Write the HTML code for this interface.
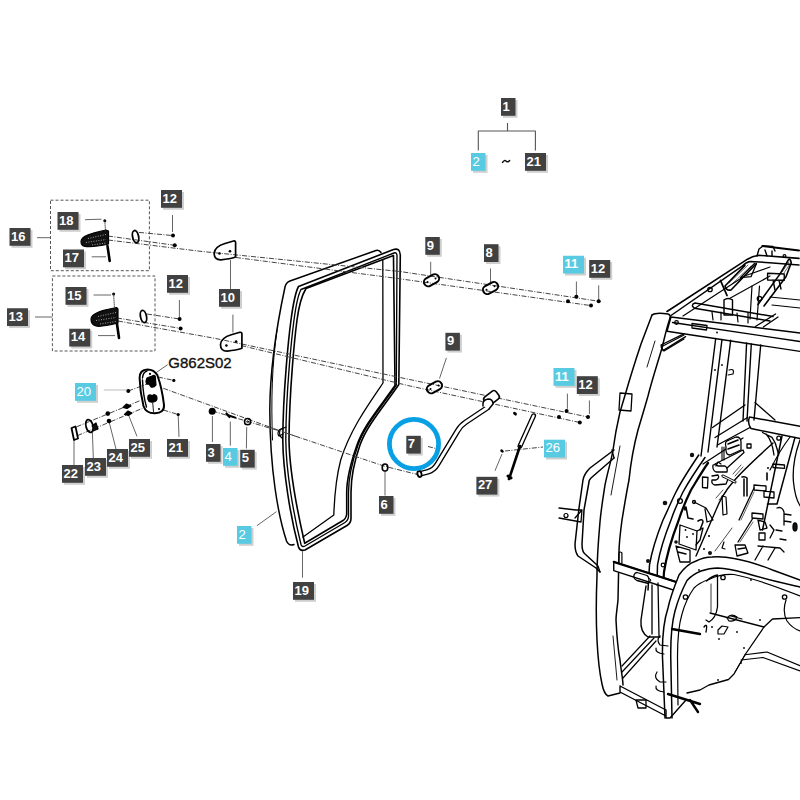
<!DOCTYPE html>
<html><head><meta charset="utf-8"><style>
html,body{margin:0;padding:0;background:#fff;width:800px;height:800px;overflow:hidden}
svg{position:absolute;left:0;top:0;display:block}
.lb text{font-family:"Liberation Sans",sans-serif;font-weight:bold;font-size:13px;fill:#fff}
.lb text.r{font-weight:normal;font-size:13.2px}
</style></head><body>
<svg width="800" height="800" viewBox="0 0 800 800">
<defs><filter id="sh" x="-20%" y="-20%" width="140%" height="140%"><feGaussianBlur stdDeviation="0.6"/></filter></defs>
<g fill="none" stroke="#000" stroke-width="1.3" stroke-linecap="round" stroke-linejoin="round">
<!-- back panel -->
<path d="M381,252.5 Q379,249.5 376,250.5 L290,281 Q286,282.5 285,287 C279,315 270,360 269.8,410 C270,470 278,515 286.5,541 Q289,546.5 294,544.5" stroke-width="1.5"/>
<path d="M277,330 C272,365 271,400 272.5,440" stroke-width="1"/>
<!-- glass inner edge -->
<path d="M382.8,260 L383,383 C368,405 350,430 340.7,460 C336,478 334.5,495 333.8,515 L303,537" stroke-width="1.3"/>
<!-- seal outer -->
<path d="M298.5,286.5 L393.5,249.5 Q400,247.5 400.3,255 L398.8,384.5 C385,405 367,425 360,445 C353,465 351,480 351,492.5 L351,518.5 Q351,523 347,525.5 L305,550 Q300,551.5 298.5,547 C290,515 283,470 282.8,440 C283,390 289,335 291,320 C293,305 295,293 298.5,286.5" stroke-width="1.6"/>
<!-- seal mid -->
<path d="M301,289.5 L394,253 Q397,252 397,256 L396.3,385 C382,406 365,425 358,445 C351,465 348.5,480 348.5,492.5 L348.5,516 Q348.5,520 345,522.5 L305,546 Q302,547.5 301,544.5 C293,512 286,470 285.8,440 C286,390 292,335 294,320 C296,305 298,295 301,289.5" stroke-width="1.35"/>
<!-- seal inner -->
<path d="M306,288.5 L393.5,255.5 L393.5,258 L395,385.5 C380,407 364,425 357,445 C350,465 346.7,480 346.7,492.5 L346.7,514 Q346,519 343,520.5 L304.7,543.3 C297,510 289.5,470 289,440 C289.3,390 295,335 297,320 C299,305 302,295 306,288.5" stroke-width="1.6"/>
<!-- clip on left -->
<path d="M286,427 L280.5,429.5 Q279,431 280,436 L282,438" stroke-width="1.2"/>
<!-- A pillar -->
<path d="M652,315 C647,328 644,336 641,344 C635,362 630,378 626,392 L620,412 C617,425 615,435 613,450 C611,462 608,470 605,485 C603,498 601,510 600,522 C598,545 597,560 597,576 C596,600 596,620 597,640 C598,660 600,675 602,684 Q604,694 608,696 L620,693" stroke-width="1.5"/>
<path d="M670,318 C666,330 664,340 662,348 C657,365 652,380 648,396 C644,410 641,420 638,430 C634,445 631,460 629,480 C626,495 624,508 622,520 C620,535 619,545 619,552 L618,600 C617,610 616,615 616,620 C617,640 618,650 620,660 C621,670 623,680 623,685" stroke-width="1.5"/>
<path d="M652,315 Q656,312 668,314 Q671,315 670,318" stroke-width="1.5"/>
<path d="M655,341 L647,367 M620,446 L611,495 M613,636 L617,680" stroke-width="0.9"/>
<path d="M661,347 L684,335 M664,351 L684,339 M661,347 L664,351" stroke-width="1.2"/>
<!-- hinge plate -->
<path d="M620,393 L632,394 L631,411 L619,410 Z" stroke-width="1.3"/>
<!-- roof rail -->
<path d="M667,311.5 L747.5,259.2 Q752,256.5 758.9,255.3 L799,258.4" stroke-width="1.6"/>
<path d="M671,315.5 L742.2,266.2 Q746,262 750.1,261.4 L769.4,262.7 L799,265" stroke-width="1.5"/>
<path d="M762.4,246.1 L799,250.5" stroke-width="2"/>
<path d="M757,256 L759,249 L763,246 L773,246.5 L775,251 M765,250 L767,256 M772,251 L772,256" stroke-width="1.4"/>
<circle cx="784.5" cy="256" r="1.4" stroke-width="1.2"/>
<path d="M683,316 L744.5,276 L770,267" stroke-width="1.2"/>
<path d="M729.5,298.5 L770,276" stroke-width="1.2"/>
<path d="M770,297 L800,300 M772,305 L800,308" stroke-width="1.2"/>
<!-- front header beam -->
<path d="M671,317 L800,333 M672.5,322.5 L800,341.5 M667,331.25 L800,351.4 M671,317 L667,331.25" stroke-width="1.4"/>
<path d="M692,323.5 L707,325.5 L706.5,330 L692,328 Z" stroke-width="1.3"/>
<circle cx="676.5" cy="322.5" r="1.8" stroke-width="1.3"/>
<circle cx="717" cy="332.5" r="0.9" fill="#000" stroke="none"/>
<path d="M661,345 L683.8,333.8 M663,350.6 L685.6,336.6 M661,345 L663,350.6" stroke-width="1.3"/>
<!-- round tube -->
<path d="M773,316.5 L695,303 Q692,304 692.5,306 Q693.5,308.5 696,308.5 L770,321" stroke-width="1.5"/>
<path d="M755.4,326.5 L775.6,314 M763.3,327 L778,317" stroke-width="1.3"/>
<!-- vertical posts upper -->
<path d="M715.7,338.5 L701,456 M722,339.4 L708,452 M730.7,340.3 L717,447 M746.6,343 L743,421 M751.3,344 L747,421 M760.7,345 L754,420" stroke-width="1.4"/>
<path d="M713,320 L712,312 M721,320 L721,312 M738,322 L737,313 M748,323 L748,313 M750,319 L752,286 M757,320 L759.5,286" stroke-width="1.2"/>
<circle cx="715" cy="370" r="0.9" fill="#000" stroke="none"/><circle cx="722" cy="365" r="0.9" fill="#000" stroke="none"/>
<path d="M729,370 Q735,368 733,374 L728,375" stroke-width="1.2"/>
<!-- clamp on tube -->
<path d="M724,300 L724,315 L732.5,315 L732.5,300 M724,300 Q728,297 732.5,300" stroke-width="1.4"/>
<path d="M720.5,280.5 L727,295.5" stroke-width="1.8"/>
<!-- roof diagonals -->
<path d="M725,286 L744.9,265.4 M731,290 L756.25,263.6 M725,286 Q726,291 731,290" stroke-width="1.6"/>
<path d="M729,283 L748,265 M732,284 L751,266" stroke-width="0.6"/>
<path d="M740.5,277.6 L754.5,263.4 M751,276.7 L756.5,263.6 M740.5,277.6 L751,276.7" stroke-width="1.3"/>
<path d="M758,304.5 L779.9,274.1 L787.75,261 Q790,256.5 791.25,262.75 L786,276.75 L764,306" stroke-width="1.6"/>
<path d="M782,272 L789,262 M784,273 L790,264" stroke-width="0.6"/>
<path d="M767.6,273.25 L784.25,274 L784.25,280.25 L767.6,280 Z M773,280 L775,290 M779,280 L781,289" stroke-width="1.4"/>
<circle cx="759.5" cy="298.5" r="2.2" stroke-width="1.3"/>
<circle cx="710" cy="289.5" r="2.2" stroke-width="1.3"/>
<!-- grab handle -->
<path d="M614,450 L590,468 Q584,474 583,480 L579,508 L575,544 Q575,552 578,556 L596,568 L600,572" stroke-width="1.5"/>
<path d="M614,458 L591,478 Q589,480 589,482 L584,510 L582,544 Q582,552 585,554 L597,565" stroke-width="1.5"/>
<path d="M612,450 L614,458 M598,566 L600,572" stroke-width="1.3"/>
<path d="M559,508 L576,510 L582,510 L581,522 L559,518 M575,518 L582,510" stroke-width="1.3"/>
<circle cx="566" cy="515.5" r="2" stroke-width="1.2"/>
<!-- big arch (rear door frame) -->
<path d="M698.75,455 C690,468 682,480 676,492 C671,502 667,512 663,520 C657,535 652,550 649.5,565 L648,590" stroke-width="1.5"/>
<path d="M705,457.5 C697,469 689,481 683,492 C678,502 674,511 671,520 C665,535 660,550 657.5,565 L657,585" stroke-width="1.5"/>
<path d="M708,463 C701,473 696,482 691,490 C686,500 682,510 678.75,520 C673,535 667,552 664,572 L663.5,580" stroke-width="2.2"/>
<path d="M773,443 C760,455 745,468 733,482 C726,490 720,500 716,510 C710,524 703,540 696,556" stroke-width="1.4"/>
<path d="M790,437 C780,450 775,460 770,470" stroke-width="1.2"/>
<!-- right beam + posts -->
<path d="M749.5,417 L800,426.3 M751,428.5 L800,438.5 M749.5,417 Q747,423 751,428.5" stroke-width="1.5"/>
<path d="M782,436 L762.5,530 M795,437.4 L777,504 M767.4,504 L777,504" stroke-width="1.5"/>
<path d="M800,440 Q792,462 793.4,481.3 Q795,498 800,505.7" stroke-width="1.3"/>
<path d="M755,402.5 L775,420" stroke-width="1.2"/>
<path d="M712.5,427.5 L745,405 M715,437.5 L747.5,417.5 M717.5,445 L750,427.5" stroke-width="1.4"/>
<path d="M703,464 L743,438" stroke-width="1.3"/>
<!-- rear wall details -->
<g stroke-width="1.3">
<path d="M726,447 Q724,441 729,440 L736,437 Q741,437 741,442 L741,450 L730,455 Q726,455 726,450 Z" fill="#fff"/>
<path d="M728,444 L738,440 M728,449 L739,445" stroke-width="1.6"/>
<path d="M724,447 L724,460 M722,447 L722,460" stroke-width="1.1"/>
<path d="M715,464 L743,450 L744,452.5 L727,468" />
<path d="M713,465 Q712,470 716,472 L727,472 Q728,468 725,466 L718,466 Q716,464 713,465 Z M716,466 L718,462 L721,464"/>
<path d="M712,476 L718,475 Q720,478 716,480 L712,480 Q711,484 715,485 L726,484 L728,479"/>
<path d="M702.5,477 L708,477.5 L707.5,488 L702.5,487.5 Z"/>
<path d="M723,476 L735,482" stroke-width="3"/>
<path d="M723,476 L735,482" stroke="#fff" stroke-width="1.2"/>
<path d="M742,477 Q745,476 747,478 L747,496 M744,479 L744,496" stroke-width="1.5"/>
<path d="M733,474 L741,465 M735,476 L743,467 M716,498 L723,490 M719,500 L726,492" stroke-width="0.7"/>
<path d="M747,444 L751,444 L751,448 L747,448 Z"/>
<path d="M762.5,432.5 L772,437.4 Q776,443 777,448.8 L778.8,455 M766,434 Q772,440 774,455"/>
<path d="M773,464 L784.5,465 L784.5,468.3 L773,467.5 Z"/>
<circle cx="778.8" cy="438.2" r="2" stroke-width="1.3"/>
<circle cx="768" cy="468" r="1" fill="#000" stroke="none"/>
<path d="M767,473 L767,480" stroke-width="1.6"/>
<!-- slanted plates + brackets -->
<path d="M739,520 L754,488 M738,542 L753,518" stroke-width="1.3"/>
<path d="M741,520 L754,492 M740,542 L753,522" stroke-width="0.6"/>
<path d="M754,485 L766,486 L766,491 L754,490 Z M764,491 L774,492 L774,498 L764,497 Z M752,513 L763,514 L763,519 L752,518 Z"/>
<path d="M758,520 L765,522 L767,528 L760,530 Z M759,533 L765,533 L765,540 L759,540 Z M770,525 L774,530 L770,538" />
<path d="M777,508 Q782,506 784,512 L784,525 M784,514 L791,515 M784,521 L791,522 M776,530 L782,531 M780,539 L786,540"/>
<ellipse cx="795" cy="527" rx="2" ry="4" fill="#111"/>
<path d="M735,545 L745,545 L748,553 L737,556 Z M738,549 L745,548"/>
<path d="M758,546 L780,548 L784,552 M763,546 L755,560 M775,548 L768,560"/>
<!-- left latch area -->
<path d="M680,525 L697,531 L696,550 L679,544 Z"/>
<circle cx="685.5" cy="530" r="0.9" fill="#000" stroke="none"/><circle cx="693" cy="534" r="0.9" fill="#000" stroke="none"/><circle cx="687" cy="537" r="0.9" fill="#000" stroke="none"/>
<path d="M685,510 Q684,507 686,507 L688,518 L693,519 M698,521 Q703,518 703,522 L700,530" stroke-width="1.5"/>
<path d="M694,502 L706,508 L713,520 L707,522 L705,509" />
<circle cx="694" cy="502" r="1.5"/>
<path d="M697,531 L703,528 L700,540 L696,545" />
<path d="M676,546 L690,550 L690,562 L680,562 Z M678,552 L686,554"/>
<path d="M722,496 L726,497 L727,514 L723,515 Z" stroke-width="1.2"/>
<path d="M724,542 L722,548 L725,549" stroke-width="1.2"/>
<circle cx="709" cy="536" r="1" fill="#000" stroke="none"/><circle cx="704" cy="549" r="1" fill="#000" stroke="none"/>
<path d="M715,551 L732,528" stroke-width="0.7"/>
</g>
<g fill="#111" stroke="none">
<circle cx="665" cy="503" r="2.3"/><circle cx="692" cy="455" r="2.2"/><circle cx="648" cy="561" r="2"/><circle cx="710" cy="553" r="2"/><circle cx="676" cy="542" r="1.8"/>
</g>
<circle cx="680" cy="501" r="2.4" stroke-width="1.3"/>
<circle cx="663" cy="565" r="1.8" stroke-width="1.2"/>
<!-- step bar -->
<path d="M613.75,561.9 L681,583.5 L678,591.5 L613.75,570.6 Z" fill="#fff" stroke-width="1.4"/>
<path d="M613.75,561.9 L681,583.5" stroke-width="2.2"/>
<path d="M637,572.5 L647,575.5 Q650,578 648.5,583.5 L637,580.5 Q633,578.5 634,575 Q635,572.5 637,572.5 Z" stroke-width="1.3"/>
<path d="M648.5,578 L651,580 L649,583" stroke-width="1"/>
<path d="M618.75,562 L619,553 Q620,551 621.9,553 L621.9,563" stroke-width="1.2"/>
<!-- lower rear panel -->
<path d="M646,586 L641,620 Q640,632 648,637 L660,637" stroke-width="1.4"/>
<path d="M652,585 L652,634 M658,583 L659,636" stroke-width="1.3"/>
<!-- wheel arch -->
<path d="M665,718 L662.5,657.5 C662,635 664,620 668,608 C670,598 673,590 679,575 C684,568 690,563 695.5,561.25 C701,558.5 706,557 712,557 C720,556.5 727,557 734,558.5 C748,561 760,565 772.5,570 C785,574.5 793,577.5 800,580 L800,596 C775,586 752,578 734,574.5 C726,577 718,577 710,579 C704,581 699,583 694,588 C689,595 685,603 682,614 C679,624 677.5,636 677.5,657 L678,718 Z" fill="#fff" stroke="none"/>
<path d="M665,718 L662.5,657.5 C662,635 664,620 668,608 C670,598 673,590 679,575 C684,568 690,563 695.5,561.25 C701,558.5 706,557 712,557 C720,556.5 727,557 734,558.5 C748,561 760,565 772.5,570 C785,574.5 793,577.5 800,580" stroke-width="1.5"/>
<path d="M672,718 L670.75,657.5 C670.5,635 672,622 675,611 C678,600 682,590 687,580.5 C692,575 696,573 701,571 C707,569 712,568 717.5,568 C728,568.5 736,570.5 745,573 C765,579 785,583.5 800,587" stroke-width="1.5"/>
<path d="M678,705 L677.5,657 C677.5,636 679,624 682,614 C685,603 689,595 694,588 C699,583 704,581 710,579 C718,575 726,574 734,574.5 C752,578 775,586 800,596" stroke-width="1.2"/>
<circle cx="685.5" cy="597" r="2.2" stroke-width="1.3"/>
<circle cx="723" cy="577.5" r="2.2" stroke-width="1.3"/>
<circle cx="784.6" cy="597" r="2.2" stroke-width="1.3"/>
<circle cx="699" cy="570" r="0.9" fill="#000" stroke="none"/><circle cx="751" cy="580" r="0.9" fill="#000" stroke="none"/>
<path d="M706.5,581 Q712,576 717.5,575 L717.5,607 Q716,618 709,622 L706,620" stroke-width="1.3"/>
<path d="M711,584 L711,612" stroke-width="0.8"/>
<path d="M786,600 Q782,612 787,621 Q792,628 800,631" stroke-width="1.2"/>
<!-- floor -->
<path d="M710,613 L764,627 L772.5,619 L800,617.6" stroke-width="1.3"/>
<path d="M764,627 L745,654.75 L734,674 L728.5,679.5 L709,685 L700,690 L687,693" stroke-width="1.3"/>
<path d="M745,654.75 L767,652 L800,665.75 M741,660 L763,657.5 L800,671" stroke-width="1.2"/>
<path d="M745,655 L735,672" stroke-width="1.0"/>
<path d="M727,618 Q731,613 737,617 Q735,622 729,621 Z M731,616 L742,619" stroke-width="1.2"/>
<path d="M718,630 L722,626 L728,627 L724,634 L718,634 Z" stroke-width="1.2"/>
<g fill="#000" stroke="none"><circle cx="712" cy="627" r="0.9"/><circle cx="737" cy="632" r="0.9"/><circle cx="719" cy="639" r="0.9"/><circle cx="744" cy="648" r="0.9"/><circle cx="718" cy="680" r="0.9"/><circle cx="741" cy="663" r="0.9"/><circle cx="760" cy="620" r="0.9"/></g>
<path d="M704,627 Q708,622 706,632" stroke-width="1.3"/>
<path d="M660,636 Q656,640 660,645 L668,646 M657,672 Q653,678 660,682 L666,682" stroke-width="1.2"/>
<!-- floor frame -->
<path d="M620,686 L666,710 M620,692 L666,716 M620,686 L620,692 M666,710 L666,718 L670,718 L686,700" stroke-width="1.4"/>
<path d="M622,672 L654,638 M623,678 L656,641 M622,666 L650,636" stroke-width="1.2"/>
<path d="M636,700 L646,700 L646,708 L638,708 Z" stroke-width="1.3"/>
<path d="M672,629 L700,634 M668,694 L700,704 M690,700 L698,712" stroke-width="2.4"/>
<path d="M656,648 Q655,653 664,654 M656,686 Q655,691 664,692" stroke-width="1.2"/>
<!-- tree lines top -->
<path d="M507.5,123 L507.5,131 M478.3,150.5 L478.3,131 L535.4,131 L535.4,150.5" stroke="#555" stroke-width="1.1" stroke-linecap="butt"/>
<!-- dashed boxes -->
<rect x="50.5" y="200.2" width="98.9" height="70.5" stroke="#555" stroke-width="1" stroke-dasharray="3 2" stroke-linecap="butt"/>
<rect x="52.4" y="276" width="102.6" height="75" stroke="#555" stroke-width="1" stroke-dasharray="3 2" stroke-linecap="butt"/>
<!-- leader lines -->
<g stroke="#666" stroke-width="1" stroke-linecap="butt">
<path d="M37,237.7 L50.5,237.7 M85,219.7 L101.5,219.2 M91.7,256.8 L106,256.8 M172.5,215 L172.5,232"/>
<path d="M35,317 L52.4,317 M93.6,295 L111,295 M98,335.6 L115,335.6 M179.4,300 L179.4,317"/>
<path d="M230.5,260 L230.5,289 M232.9,314.6 L232.9,332.5"/>
<path d="M430.7,261.8 L430.7,275 M490.5,268.4 L490.5,282.8 M576.4,281.5 L576.4,296 M598.7,285.4 L598.7,300"/>
<path d="M446.4,357.9 L439.5,378.5 M567.4,393.6 L567.4,408.8 M589.4,400.5 L589.4,414"/>
<path d="M156.3,372.5 L167.7,364.6 M178.2,415 L179,437"/><path d="M103.8,390 L126.5,390" stroke="#bbb"/>
<path d="M74,440 L74,465 M92.4,432 L93.3,458 M109,421.5 L116,449 M128.3,414.5 L137,436.4"/>
<path d="M212.4,416 L212.4,442 M230.3,421.6 L230.3,445.7 M246.7,427 L246.4,448.5"/>
<path d="M385,470.75 L385,495.5 M495,470.75 L502,454"/>
<path d="M256.9,525.7 L276.4,511.7 M302.5,577.7 L302.5,551"/>
</g>
<!-- dash-dot lines -->
<g stroke="#444" stroke-width="1" stroke-dasharray="5 1.5 1 1.5" stroke-linecap="butt">
<path d="M139,232.4 L173,235.6 M108,236 L174.75,245.3"/>
<path d="M108,240 L200,251.25 L400,271.5 L598.7,301.2"/>
<path d="M236,257.5 L400,278.8 L591,305.6"/>
<path d="M147,314 L179.6,319 M117,318 L180.6,328.4"/>
<path d="M118,321 L215,338.35 L410,379.6 L588,417"/>
<path d="M241,345.5 L410,386 L579.8,422.5"/>
<path d="M128.3,391 L147,384 M158,377 L173.8,380.4 M163.3,388.3 L281.25,431.25 L300,437.8"/>
<path d="M163.3,410 L178.2,414.5 M76.6,426.8 L140.5,400.5 M77.5,435.6 L142.3,408.4"/>
<path d="M212.5,411 L279,430.8 M286,433 L384.5,466.25 L419.5,475"/>
<path d="M428,446.5 L436,448.5 M505,451 L543,447"/>
</g>
<!-- dots -->
<g fill="#000" stroke="none">
<circle cx="173" cy="235.6" r="2"/><circle cx="174.75" cy="245.3" r="2"/>
<circle cx="179.6" cy="319" r="2"/><circle cx="180.6" cy="328.4" r="2"/>
<circle cx="576.4" cy="296.7" r="2"/><circle cx="598.7" cy="301.2" r="2"/>
<circle cx="568" cy="301.2" r="2"/><circle cx="591" cy="305.6" r="2"/>
<circle cx="566.6" cy="411" r="2"/><circle cx="588" cy="417" r="2"/>
<circle cx="559" cy="417" r="2"/><circle cx="579.8" cy="422.5" r="2"/>
<circle cx="104.8" cy="220.8" r="1.5"/><circle cx="113.6" cy="294" r="1.5"/>
<circle cx="128.3" cy="391" r="2"/><circle cx="173.8" cy="380.4" r="1.6"/><circle cx="178.2" cy="414.5" r="1.6"/>
<circle cx="107.8" cy="413.6" r="2.3"/><circle cx="109" cy="421" r="2.3"/>
<circle cx="212.2" cy="411.2" r="3.5"/>
<ellipse cx="515" cy="413.7" rx="2.2" ry="1.5" transform="rotate(40 515 413.7)"/>
<ellipse cx="502" cy="451" rx="2" ry="1.4" transform="rotate(40 502 451)"/>
</g>
<!-- handles (grips) -->
<path d="M81,241.5 C81,236 92,233 106,230 L108.5,231 L108.5,244 C100,246 90,247 85,246.5 C82,246 81,244 81,241.5 Z" fill="#111" stroke="#000" stroke-width="1.2"/>
<path d="M91,319 C91,313 103,310 116.5,307.5 L118,309 L118,323 C110,325 100,327 96,326 C92,325 91,322 91,319 Z" fill="#111" stroke="#000" stroke-width="1.2"/>
<g stroke="#fff" stroke-width="0.6" stroke-dasharray="1 1.5" stroke-linecap="butt">
<path d="M88,238.5 L106,234.5 M86,242.5 L106,239.5 M92,245 L106,243"/>
<path d="M98,316.5 L116,312.5 M96,320.5 L116,317.5 M100,324 L116,321.5"/>
</g>
<path d="M107.5,246 L109.7,261 M117,324 L119,338" stroke-width="2.6"/>
<path d="M104.8,221 L105.5,230 M113.6,294 L114.5,308" stroke="#333" stroke-width="0.8" stroke-dasharray="1 1"/>
<!-- rings -->
<ellipse cx="135.6" cy="236.6" rx="3" ry="6.2" transform="rotate(-12 135.6 236.6)" stroke-width="1.8"/>
<ellipse cx="143.5" cy="316.5" rx="3" ry="6.2" transform="rotate(-12 143.5 316.5)" stroke-width="1.8"/>
<!-- hinge plates 10 -->
<path d="M233.5,241 Q236,240.5 235.6,244 L235.6,257 Q230,259 221,259.8 Q214,260 214.2,253 Q215,246.5 225,243.5 Z" stroke-width="1.7"/>
<path d="M239.8,332.3 Q242.3,331.8 241.9,335.3 L241.9,348.3 Q236.3,350.3 227.3,351.1 Q220.3,351.3 220.5,344.3 Q221.3,337.8 231.3,334.8 Z" stroke-width="1.7"/>
<g fill="#000" stroke="none"><circle cx="219.5" cy="253.5" r="1.3"/><circle cx="230" cy="251.2" r="1.3"/><circle cx="226.4" cy="345.5" r="1.3"/><circle cx="236.1" cy="341.6" r="1.3"/></g>
<!-- plates 9, 8 -->
<g stroke-width="2">
<rect x="423.5" y="276" width="16" height="8.5" rx="4.2" transform="rotate(-28 431.5 280.2)"/>
<rect x="482.5" y="283.8" width="16" height="8.5" rx="4.2" transform="rotate(-28 490.5 288)"/>
<rect x="426.5" y="383" width="16" height="8.5" rx="4.2" transform="rotate(-28 434.5 387.3)"/>
</g>
<g fill="#000" stroke="none"><circle cx="427.5" cy="282" r="1"/><circle cx="435.5" cy="278.4" r="1"/><circle cx="486.5" cy="289.8" r="1"/><circle cx="494.5" cy="286.2" r="1"/><circle cx="430.5" cy="389.1" r="1"/><circle cx="438.5" cy="385.5" r="1"/></g>
<!-- lock plate -->
<path d="M139.6,378 Q139.5,369.5 147.5,369.4 Q154,369.5 157.3,375 Q162,388 164,405 Q164.5,413 155,413.3 Q146,413.5 143.5,406 Q140,392 139.6,378 Z" stroke-width="2"/>
<path d="M142.5,378 Q143,372 147,371 M142.5,380 Q143,395 146.5,407" stroke-width="1.4"/>
<path d="M147,378 L152,376 Q156,374 155.5,379 L156,385 Q154,388 151,387 L149,384 Q146,385 146,381 Z" fill="#000" stroke-width="1.2"/>
<path d="M148,396 Q150,394 152,396 Q154,393 156.5,396 Q158,400 155,401.5 Q152,403 149,401.5 Q147,399 148,396 Z" fill="#000" stroke-width="1.2"/>
<path d="M152.75,403 L153.5,411.5" stroke-width="0.9"/>
<circle cx="150" cy="373.9" r="1.1" fill="#000" stroke="none"/><circle cx="159" cy="409" r="1.1" fill="#000" stroke="none"/>
<!-- small parts 22-25 -->
<path d="M71.5,428 L75.5,426.5 L78,438.5 L74,440 Z" stroke-width="1.8"/>
<ellipse cx="89.5" cy="426" rx="3.5" ry="6.5" transform="rotate(-15 89.5 426)" stroke-width="1.8"/>
<path d="M92,426 L96,423 L98,429 L93,431" fill="#111" stroke-width="1.2"/>
<path d="M123,407.5 L126.5,404 L131,406 L127,408.5 Z M124.5,414.5 L128,411 L132,413 L128.5,415.5 Z" fill="#000" stroke-width="1.2"/>
<!-- 4 screw, 5 washer -->
<path d="M227.4,415 L235.3,417.6" stroke-width="2"/>
<path d="M226.5,413.5 L229.5,417" stroke-width="2.2"/>
<circle cx="247.6" cy="421.7" r="3.1" stroke-width="1.5"/>
<circle cx="247.6" cy="421.7" r="1" stroke-width="0.7"/>
<!-- clip on door -->
<path d="M283,428 L279,430 Q277,434 279,436 L283,434" stroke-width="1.2"/>
<!-- washer 6 -->
<ellipse cx="385" cy="467.5" rx="2.8" ry="3.5" stroke-width="1.6"/>
<!-- rod 7 -->
<path d="M419.5,474 L428,471.8 Q434,470 437.5,464 L457.5,431 Q460.5,425.5 466,422 L487,408" stroke-width="5.6" stroke-linecap="round"/>
<path d="M419.5,474 L428,471.8 Q434,470 437.5,464 L457.5,431 Q460.5,425.5 466,422 L487,408" stroke="#fff" stroke-width="3" stroke-linecap="round"/>
<ellipse cx="419.5" cy="474" rx="2" ry="3" transform="rotate(-15 419.5 474)" stroke-width="1.8" fill="#fff"/>
<rect x="484" y="393" width="15" height="10" rx="3" transform="rotate(-38 491.5 398)" stroke-width="1.6" fill="#fff"/>
<path d="M483,406 Q482,400 488,399 Q493,399 493,404 L489,409" stroke-width="1.5" fill="#fff"/>
<!-- gas strut 26 -->
<path d="M520,446 L533.6,415.75" stroke-width="5" stroke-linecap="round"/>
<path d="M520,446 L533.6,415.75" stroke="#fff" stroke-width="2.4" stroke-linecap="round"/>
<path d="M509,479 L520,446" stroke-width="2.6"/>
<path d="M508,476 L511,478" stroke-width="3"/>
<!-- door clip extra -->

</g>
<g class="lb">
<rect x="503.00" y="100.00" width="14.5" height="17.8" fill="#cfcfcf" filter="url(#sh)"/><rect x="501.00" y="98.00" width="14.5" height="17.8" fill="#414141"/><text x="502.50" y="110.50">1</text><rect x="473.00" y="155.00" width="14.5" height="17.8" fill="#cfcfcf" filter="url(#sh)"/><rect x="471.00" y="153.00" width="14.5" height="17.8" fill="#58cbe2"/><text x="472.50" y="165.50" class="r">2</text><rect x="527.00" y="155.00" width="21" height="17.8" fill="#cfcfcf" filter="url(#sh)"/><rect x="525.00" y="153.00" width="21" height="17.8" fill="#414141"/><text x="526.50" y="165.50">21</text><rect x="11.50" y="230.00" width="21" height="17.8" fill="#cfcfcf" filter="url(#sh)"/><rect x="9.50" y="228.00" width="21" height="17.8" fill="#414141"/><text x="11.00" y="240.50">16</text><rect x="59.50" y="214.00" width="21" height="17.8" fill="#cfcfcf" filter="url(#sh)"/><rect x="57.50" y="212.00" width="21" height="17.8" fill="#414141"/><text x="59.00" y="224.50">18</text><rect x="163.00" y="192.00" width="21" height="17.8" fill="#cfcfcf" filter="url(#sh)"/><rect x="161.00" y="190.00" width="21" height="17.8" fill="#414141"/><text x="162.50" y="202.50">12</text><rect x="65.00" y="251.50" width="21" height="17.8" fill="#cfcfcf" filter="url(#sh)"/><rect x="63.00" y="249.50" width="21" height="17.8" fill="#414141"/><text x="64.50" y="262.00">17</text><rect x="169.00" y="277.00" width="21" height="17.8" fill="#cfcfcf" filter="url(#sh)"/><rect x="167.00" y="275.00" width="21" height="17.8" fill="#414141"/><text x="168.50" y="287.50">12</text><rect x="9.00" y="310.25" width="21" height="17.8" fill="#cfcfcf" filter="url(#sh)"/><rect x="7.00" y="308.25" width="21" height="17.8" fill="#414141"/><text x="8.50" y="320.75">13</text><rect x="67.50" y="289.00" width="21" height="17.8" fill="#cfcfcf" filter="url(#sh)"/><rect x="65.50" y="287.00" width="21" height="17.8" fill="#414141"/><text x="67.00" y="299.50">15</text><rect x="71.25" y="330.75" width="21" height="17.8" fill="#cfcfcf" filter="url(#sh)"/><rect x="69.25" y="328.75" width="21" height="17.8" fill="#414141"/><text x="70.75" y="341.25">14</text><rect x="221.00" y="291.00" width="21" height="17.8" fill="#cfcfcf" filter="url(#sh)"/><rect x="219.00" y="289.00" width="21" height="17.8" fill="#414141"/><text x="220.50" y="301.50">10</text><rect x="427.30" y="239.00" width="14.5" height="17.8" fill="#cfcfcf" filter="url(#sh)"/><rect x="425.30" y="237.00" width="14.5" height="17.8" fill="#414141"/><text x="426.80" y="249.50">9</text><rect x="486.00" y="246.20" width="14.5" height="17.8" fill="#cfcfcf" filter="url(#sh)"/><rect x="484.00" y="244.20" width="14.5" height="17.8" fill="#414141"/><text x="485.50" y="256.70">8</text><rect x="565.00" y="257.75" width="21" height="17.8" fill="#cfcfcf" filter="url(#sh)"/><rect x="563.00" y="255.75" width="21" height="17.8" fill="#58cbe2"/><text x="564.50" y="268.25">11</text><rect x="591.20" y="262.00" width="21" height="17.8" fill="#cfcfcf" filter="url(#sh)"/><rect x="589.20" y="260.00" width="21" height="17.8" fill="#414141"/><text x="590.70" y="272.50">12</text><rect x="447.40" y="334.80" width="14.5" height="17.8" fill="#cfcfcf" filter="url(#sh)"/><rect x="445.40" y="332.80" width="14.5" height="17.8" fill="#414141"/><text x="446.90" y="345.30">9</text><rect x="555.50" y="370.00" width="21" height="17.8" fill="#cfcfcf" filter="url(#sh)"/><rect x="553.50" y="368.00" width="21" height="17.8" fill="#58cbe2"/><text x="555.00" y="380.50">11</text><rect x="578.80" y="378.20" width="21" height="17.8" fill="#cfcfcf" filter="url(#sh)"/><rect x="576.80" y="376.20" width="21" height="17.8" fill="#414141"/><text x="578.30" y="388.70">12</text><rect x="77.00" y="385.00" width="21" height="17.8" fill="#cfcfcf" filter="url(#sh)"/><rect x="75.00" y="383.00" width="21" height="17.8" fill="#58cbe2"/><text x="76.50" y="395.50" class="r">20</text><rect x="169.00" y="441.00" width="21" height="17.8" fill="#cfcfcf" filter="url(#sh)"/><rect x="167.00" y="439.00" width="21" height="17.8" fill="#414141"/><text x="168.50" y="451.50">21</text><rect x="208.00" y="446.00" width="14.5" height="17.8" fill="#cfcfcf" filter="url(#sh)"/><rect x="206.00" y="444.00" width="14.5" height="17.8" fill="#414141"/><text x="207.50" y="456.50">3</text><rect x="225.00" y="450.00" width="14.5" height="17.8" fill="#cfcfcf" filter="url(#sh)"/><rect x="223.00" y="448.00" width="14.5" height="17.8" fill="#58cbe2"/><text x="224.50" y="460.50" class="r">4</text><rect x="242.20" y="451.80" width="14.5" height="17.8" fill="#cfcfcf" filter="url(#sh)"/><rect x="240.20" y="449.80" width="14.5" height="17.8" fill="#414141"/><text x="241.70" y="462.30">5</text><rect x="64.00" y="467.00" width="21" height="17.8" fill="#cfcfcf" filter="url(#sh)"/><rect x="62.00" y="465.00" width="21" height="17.8" fill="#414141"/><text x="63.50" y="477.50">22</text><rect x="87.00" y="460.00" width="21" height="17.8" fill="#cfcfcf" filter="url(#sh)"/><rect x="85.00" y="458.00" width="21" height="17.8" fill="#414141"/><text x="86.50" y="470.50">23</text><rect x="109.00" y="451.00" width="21" height="17.8" fill="#cfcfcf" filter="url(#sh)"/><rect x="107.00" y="449.00" width="21" height="17.8" fill="#414141"/><text x="108.50" y="461.50">24</text><rect x="131.00" y="441.00" width="21" height="17.8" fill="#cfcfcf" filter="url(#sh)"/><rect x="129.00" y="439.00" width="21" height="17.8" fill="#414141"/><text x="130.50" y="451.50">25</text><rect x="408.30" y="437.80" width="14.5" height="17.8" fill="#cfcfcf" filter="url(#sh)"/><rect x="406.30" y="435.80" width="14.5" height="17.8" fill="#414141"/><text x="407.80" y="448.30">7</text><rect x="546.00" y="441.70" width="21" height="17.8" fill="#cfcfcf" filter="url(#sh)"/><rect x="544.00" y="439.70" width="21" height="17.8" fill="#58cbe2"/><text x="545.50" y="452.20" class="r">26</text><rect x="478.40" y="478.80" width="21" height="17.8" fill="#cfcfcf" filter="url(#sh)"/><rect x="476.40" y="476.80" width="21" height="17.8" fill="#414141"/><text x="477.90" y="489.30">27</text><rect x="381.00" y="498.00" width="14.5" height="17.8" fill="#cfcfcf" filter="url(#sh)"/><rect x="379.00" y="496.00" width="14.5" height="17.8" fill="#414141"/><text x="380.50" y="508.50">6</text><rect x="239.00" y="528.00" width="14.5" height="17.8" fill="#cfcfcf" filter="url(#sh)"/><rect x="237.00" y="526.00" width="14.5" height="17.8" fill="#58cbe2"/><text x="238.50" y="538.50" class="r">2</text><rect x="295.00" y="584.00" width="21" height="17.8" fill="#cfcfcf" filter="url(#sh)"/><rect x="293.00" y="582.00" width="21" height="17.8" fill="#414141"/><text x="294.50" y="594.50">19</text>
</g>
<text x="168.3" y="368.3" font-family="Liberation Sans, sans-serif" font-size="15" fill="#111" stroke="#111" stroke-width="0.35">G862S02</text>
<path d="M502.6,162.4 Q504.5,159.4 506.3,161.2 Q508,162.8 509.6,160.5" fill="none" stroke="#111" stroke-width="1.5" stroke-linecap="round"/>
<circle cx="414" cy="444" r="24.6" fill="none" stroke="#08a0e4" stroke-width="4.8"/>
</svg>
</body></html>
